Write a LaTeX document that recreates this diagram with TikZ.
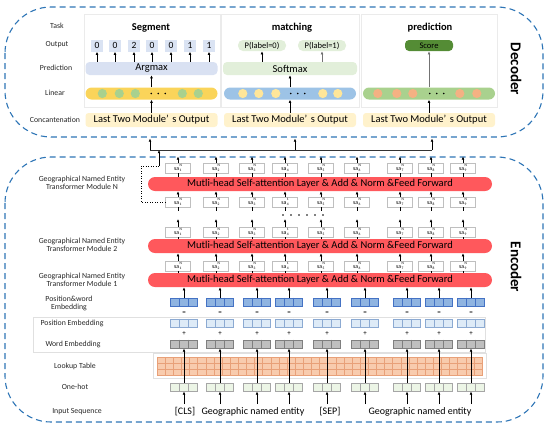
\documentclass[tikz,border=0pt]{standalone}
\usepackage{fontspec}
\setmainfont{Carlito}
\usetikzlibrary{arrows.meta,calc}
\definecolor{dblue}{RGB}{46,117,182}
\definecolor{redbar}{RGB}{255,88,92}
\definecolor{lav}{RGB}{217,225,242}
\definecolor{outblue}{RGB}{218,227,243}
\definecolor{yelbar}{RGB}{250,212,90}
\definecolor{cgreen}{RGB}{169,209,142}
\definecolor{bluebar}{RGB}{157,195,230}
\definecolor{cyel}{RGB}{255,230,153}
\definecolor{greenbar}{RGB}{169,209,142}
\definecolor{corange}{RGB}{244,177,131}
\definecolor{softg}{RGB}{226,239,218}
\definecolor{scoreg}{RGB}{84,140,53}
\definecolor{concatc}{RGB}{255,242,204}
\definecolor{pwfill}{RGB}{143,180,225}
\definecolor{pwdraw}{RGB}{68,114,196}
\definecolor{posfill}{RGB}{222,235,247}
\definecolor{posdraw}{RGB}{140,170,210}
\definecolor{wefill}{RGB}{191,191,191}
\definecolor{wedraw}{RGB}{127,127,127}
\definecolor{ohfill}{RGB}{236,245,230}
\definecolor{ohdraw}{RGB}{166,166,166}
\definecolor{lutfill}{RGB}{248,203,173}
\definecolor{lutdraw}{RGB}{232,160,120}
\newcommand\myfs[1]{\fontsize{#1}{#1}\selectfont}
\newcommand\salab[2]{sa\hspace{0.4pt}\raisebox{-1.6pt}{\fontsize{3.6}{4.4}\selectfont\shortstack[l]{#1\\#2}}}
\begin{document}
\begin{tikzpicture}[x=1pt,y=-1pt,
  dashbox/.style={draw=dblue,line width=1.1pt,dash pattern=on 6pt off 4pt,rounded corners=46pt},
  panel/.style={draw=black!8,line width=0.5pt},
  rowlab/.style={font=\myfs{7.8},text=black!85,align=center},
  ttl/.style={font=\myfs{10.5}\bfseries},
  outbox/.style={fill=outblue,minimum width=12pt,minimum height=12pt,inner sep=0pt,font=\myfs{9.5}},
  pbox/.style={fill=softg,rounded corners=5pt,minimum width=48pt,minimum height=11pt,inner sep=0pt,font=\myfs{8.5}},
  predbar/.style={rounded corners=4pt,minimum height=13pt,inner sep=0pt,font=\myfs{10.5}},
  linbar/.style={rounded corners=6pt,minimum width=132pt,minimum height=12pt,inner sep=0pt},
  concat/.style={fill=concatc,rounded corners=3pt,minimum width=132pt,minimum height=14pt,inner sep=0pt,font=\myfs{10.5}},
  arr/.style={-{Latex[length=3.2pt,width=2.8pt]},line width=0.6pt},
  garr/.style={-{Latex[length=3.2pt,width=2.8pt]},line width=0.6pt,draw=black!55},
  modbar/.style={fill=redbar,rounded corners=7pt,minimum width=344pt,minimum height=14pt,inner sep=0pt,font=\myfs{10.5}},
  sabox/.style={draw=black!25,line width=0.4pt,minimum width=25pt,minimum height=10pt,inner sep=0pt,font=\myfs{5.8}},
  tri/.style={minimum width=27pt,minimum height=8.5pt,inner sep=0pt,line width=0.5pt},
  intext/.style={font=\myfs{10}},
  sym/.style={font=\myfs{7},inner sep=0pt}
]
\useasboundingbox (0,0) rectangle (550,432);

% ================= DECODER =================
\draw[dashbox] (5,7) rectangle (543,137);
\node[rotate=-90,font=\myfs{15}\bfseries] (declab) at (516,69) {Decoder};
\draw[panel] (84,14) rectangle (220,107);
\draw[panel] (221,14) rectangle (359,107);
\draw[panel] (361,14) rectangle (497,107);

\node[rowlab] (lt) at (57,26) {Task};
\node[rowlab] (lo) at (57,45) {Output};
\node[rowlab] (lp) at (56,68) {Prediction};
\node[rowlab] (ll) at (55,93) {Linear};
\node[rowlab] (lc) at (55,120) {Concantenation};

\node[ttl] (t1) at (151,28) {Segment};
\node[ttl] (t2) at (292,28) {matching};
\node[ttl] (t3) at (430,28) {prediction};

% column 1
\foreach \x/\v [count=\i] in {97/0,115/0,134/2,152/0,171/0,190/1,209/1}
  \node[outbox] (o\i) at (\x,45.5) {\v};
\node[predbar,fill=lav,minimum width=132pt] (argmax) at (151.5,68.5) {Argmax};
\foreach \i in {1,...,7} \draw[arr] (argmax.north -| o\i) -- (o\i.south);
\node[linbar,fill=yelbar] (lin1) at (151.5,93.5) {};
\foreach \d in {17,34,50,97,113} \fill[cgreen] ($(lin1.west)+(\d,0)$) circle (4.6pt);
\foreach \d in {66,73,80} \fill ($(lin1.west)+(\d,0)$) circle (0.9pt);
\node[concat] (cc1) at (151.5,120) {Last Two Module’\,\,s Output};
\draw[arr] (cc1.north) -- (lin1.south);
\draw[arr] (lin1.north) -- (argmax.south);

% column 2
\node[pbox] (p0) at (262,45.5) {P(label=0)};
\node[pbox] (p1) at (322,45.5) {P(label=1)};
\node[predbar,fill=softg,minimum width=134pt] (softmax) at (290,68.5) {Softmax};
\draw[arr] (softmax.north -| p0) -- (p0.south);
\draw[garr] (softmax.north -| p1) -- (p1.south);
\node[linbar,fill=bluebar] (lin2) at (290,93.5) {};
\foreach \d in {19,35,52,99,114} \fill[cyel] ($(lin2.west)+(\d,0)$) circle (4.6pt);
\foreach \d in {67,74,81} \fill ($(lin2.west)+(\d,0)$) circle (0.9pt);
\node[concat] (cc2) at (290,120) {Last Two Module’\,\,s Output};
\draw[arr] (cc2.north) -- (lin2.south);
\draw[arr] (lin2.north) -- (softmax.south);

% column 3
\node[fill=scoreg,rounded corners=4pt,minimum width=48pt,minimum height=11pt,inner sep=0pt,font=\myfs{8.5}] (score) at (429,45.5) {Score};
\node[linbar,fill=greenbar] (lin3) at (429,93.5) {};
\foreach \d in {15,34,50,97,114} \fill[corange] ($(lin3.west)+(\d,0)$) circle (4.6pt);
\foreach \d in {67,74,81} \fill ($(lin3.west)+(\d,0)$) circle (0.9pt);
\node[concat] (cc3) at (429,120) {Last Two Module’\,\,s Output};
\draw[arr] (cc3.north) -- (lin3.south);
\draw[garr] (lin3.north) -- (score.south);

% encoder -> decoder
\coordinate (j1) at (150,150);
\coordinate (j2) at (295,150);
\coordinate (j3) at (432,150);
\coordinate (e1) at (150,138.5);
\coordinate (e2) at (295,138.5);
\coordinate (e3) at (432,138.5);
\draw[line width=1pt,draw=black!80] (j1) -- (j3);
\draw[arr,line width=0.9pt] (j1) -- (e1);
\draw[arr,line width=0.9pt] (j2) -- (e2);
\draw[arr,line width=0.9pt] (j3) -- (e3);

% ================= ENCODER =================
\draw[dashbox] (5,157) rectangle (543,422);
\node[rotate=-90,font=\myfs{15}\bfseries] (enclab) at (516,267) {Encoder};

\node[rowlab] (lN) at (82,183) {Geographical Named Entity\\Transformer Module N};
\node[rowlab] (l2) at (82,245) {Geographical Named Entity\\Transformer Module 2};
\node[rowlab] (l1) at (82,280) {Geographical Named Entity\\Transformer Module 1};
\node[rowlab] (lpw) at (69,303.5) {Position\&word\\Embedding};
\node[rowlab] (lpe) at (72,323) {Position Embedding};
\node[rowlab] (lwe) at (73,344) {Word Embedding};
\node[rowlab] (llt) at (75,366) {Lookup Table};
\node[rowlab] (loh) at (75,387) {One-hot};
\node[rowlab] (lis) at (77,412) {Input Sequence};

\node[modbar] (m1) at (320,280) {Mutli-head Self-attention Layer \& Add \& Norm \&Feed Forward};
\node[modbar] (m2) at (320,246) {Mutli-head Self-attention Layer \& Add \& Norm \&Feed Forward};
\node[modbar] (mN) at (320,184) {Mutli-head Self-attention Layer \& Add \& Norm \&Feed Forward};

\foreach \x/\s [count=\i] in {178/N,216/N,252/N,285/1,321/N,357/N,400/N,431/N,463/N} {
  \node[sabox] (a\i) at (\x,266) {\salab{\s}{\i}};
  \node[sabox] (b\i) at (\x,232) {\salab{\s}{\i}};
  \node[sabox] (c\i) at (\x,202) {\salab{\s}{\i}};
  \node[sabox] (d\i) at (\x,168) {\salab{\s}{\i}};
  \coordinate (bt\i) at (\x,219);
  \coordinate (ct\i) at (\x,211);
  \coordinate (dt\i) at (\x,156.5);
  \draw[line width=0.5pt] (a\i.south |- m1.north) -- (a\i.south);
  \draw[arr] (a\i.north) -- (a\i.north |- m2.south);
  \draw[line width=0.5pt] (b\i.south |- m2.north) -- (b\i.south);
  \draw[arr] (b\i.north) -- (bt\i);
  \draw[line width=0.5pt] (c\i.south) -- (ct\i);
  \draw[arr] (c\i.north) -- (c\i.north |- mN.south);
  \draw[line width=0.5pt] (d\i.south |- mN.north) -- (d\i.south);
  \draw[arr] (d\i.north) -- (dt\i);
}
% dots between module 2 and N
\foreach \k in {0,...,5} \fill (283+\k*8,215) circle (0.9pt);

% dotted bypass
\coordinate (dl1) at (141,202);
\coordinate (dl2) at (141,166);
\coordinate (dl3) at (159,166);
\draw[dotted,line width=0.5pt] (c1.west) -- (dl1) -- (dl2) -- (dl3);
\draw[arr] (dl3) -- (dl3 |- j1);

% faint panels
\draw[draw=black!12,line width=0.5pt] (33,317) rectangle (485,352);
\draw[draw=black!12,line width=0.5pt] (153,353) rectangle (486,378);

% lookup table
\node[fill=lutfill,draw=lutdraw,minimum width=325pt,minimum height=18pt,inner sep=0pt,line width=0.5pt] (lut) at (319.5,366) {};
\foreach \k in {1,...,39} \draw[lutdraw,line width=0.5pt] (157+\k*8.125,357) -- (157+\k*8.125,375);
\draw[lutdraw,line width=0.5pt] (157,363) -- (482,363);
\draw[lutdraw,line width=0.5pt] (157,369) -- (482,369);

% token columns
\foreach \x [count=\i] in {184,220,257,289,327,365,407,439,471} {
  \node[tri,fill=pwfill,draw=pwdraw] (pw\i) at (\x,302) {};
  \node[tri,fill=posfill,draw=posdraw] (pe\i) at (\x,323) {};
  \node[tri,fill=wefill,draw=wedraw] (we\i) at (\x,344) {};
  \node[tri,fill=ohfill,draw=ohdraw] (oh\i) at (\x,387) {};
  \foreach \n/\c in {pw/pwdraw,pe/posdraw,we/wedraw,oh/ohdraw} {
    \draw[\c,line width=0.5pt] ($(\n\i.north)+(-4.5,0)$) -- ($(\n\i.south)+(-4.5,0)$);
    \draw[\c,line width=0.5pt] ($(\n\i.north)+(4.5,0)$) -- ($(\n\i.south)+(4.5,0)$);
  }
  \node[sym] (eq\i) at (\x,313) {=};
  \node[sym] (pl\i) at (\x,333.5) {+};
  \coordinate (in\i) at (\x,404);
  \draw[arr] (pw\i.north) -- (pw\i.north |- m1.south);
  \draw[arr] (oh\i.north) -- (we\i.south);
  \draw[arr] (in\i) -- (oh\i.south);
}

% input sequence
\node[intext] (s1) at (185,412) {[CLS]};
\node[intext] (s2) at (253,412) {Geographic named entity};
\node[intext] (s3) at (330,412) {[SEP]};
\node[intext] (s4) at (420,412) {Geographic named entity};
\end{tikzpicture}
\end{document}
